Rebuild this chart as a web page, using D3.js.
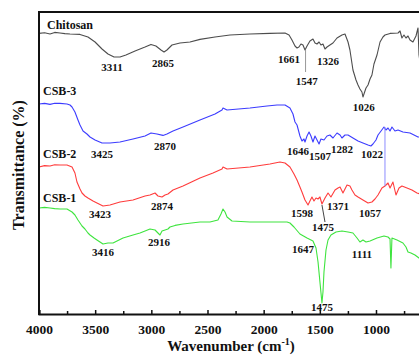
<!DOCTYPE html>
<html>
<head>
<meta charset="utf-8">
<script src="https://cdn.jsdelivr.net/npm/d3@7"></script>
<style>
  html, body { margin: 0; padding: 0; background: #fff; overflow: hidden; }
  svg { display: block; }
  text { font-family: "Liberation Serif", "Times New Roman", serif; font-weight: bold; fill: #111; }
</style>
</head>
<body>
<script>
// FTIR spectra: [wavenumber (cm-1), transmittance (offset, a.u.)]
const chitosan = [
  [4000,140.3],[3950,140.6],[3902,140],[3860,140.8],[3813,140.5],[3770,140.2],[3724,140],[3635,139.8],[3564,138.5],[3501,136],
  [3439,132.5],[3386,130],[3332,128.5],[3279,128.5],[3226,129.5],[3145,131.5],[3056,133.5],
  [3003,134.8],[2959,134],[2914,132],[2887,131],[2861,132],[2816,134.5],[2745,135.5],
  [2656,136],[2567,137.3],[2433,138.5],[2300,139.5],[2122,140],[1944,140.3],[1810,140.5],
  [1774,139.5],[1748,137],[1721,134],[1703,133],[1686,133.5],[1668,135],[1650,134.5],
  [1632,132],[1614,134],[1588,136.5],[1561,137.5],[1543,135.5],[1525,135],[1507,136],
  [1490,134.5],[1472,135],[1454,132.5],[1436,133.5],[1410,134.5],[1383,135.5],[1347,138],
  [1303,139.5],[1276,140],[1249,136],[1232,132],[1205,122],[1178,117],[1160,114.5],
  [1143,112.5],[1125,111],[1116,108.5],[1107,110],[1089,113],[1071,114.5],[1053,117.5],
  [1036,119.5],[1018,125],[991,129.5],[964,136],[938,138.5],[920,139.5],[875,140.3],
  [804,140.5],[786,141.5],[769,138],[751,139.5],[733,138],[715,139],[697,137],[671,136],
  [644,139],[626,143],[617,129.5],[608,126]
];

const csb3 = [
  [4000,105],[3950,105.3],[3902,104.8],[3860,105.4],[3813,105.3],[3751,105],[3724,104.5],[3706,103.5],[3680,101],
  [3653,97],[3635,94.5],[3608,91.5],[3573,90],[3546,88.5],[3501,87],[3439,85.5],[3368,85.5],
  [3279,86],[3163,87.5],[3056,89],[3003,90.5],[2950,90],[2896,89.3],[2861,90],[2807,91.5],
  [2718,93.5],[2567,97],[2433,100],[2371,102],[2362,103],[2326,102],[2122,103],[1970,104],
  [1881,104.5],[1810,104.5],[1766,103],[1739,100],[1721,96],[1703,94.5],[1677,89],[1659,86.5],
  [1641,87.5],[1632,86],[1614,89],[1596,91],[1579,89],[1561,86],[1543,89],[1525,87],
  [1507,85],[1490,87.5],[1463,87],[1436,89],[1410,89.5],[1383,88],[1347,90.5],[1320,89.5],
  [1303,88],[1276,89.5],[1249,89.5],[1205,88],[1160,86.5],[1116,85.5],[1071,84.5],
  [1045,84],[1027,85],[1000,87],[982,89.5],[955,91.5],[929,93.5],[911,92],[893,93],
  [875,91.5],[858,93.5],[831,91.5],[804,92],[760,91],[697,90.5],[626,88.5],[608,88.5]
];

const csb2 = [
  [4000,73.5],[3950,74.2],[3902,74],[3860,74.6],[3813,74.5],[3751,74.5],[3706,73.5],[3680,70.5],[3662,66],
  [3635,62.5],[3617,60.5],[3591,59],[3564,58],[3519,56.5],[3484,55.5],[3430,54],[3368,54.5],
  [3279,56],[3163,57],[3056,59],[3012,59.5],[2967,60.5],[2941,59],[2905,58.5],[2878,59.5],
  [2852,60],[2807,62],[2718,64],[2567,68],[2451,70.5],[2371,72.5],[2362,73.5],[2326,72.5],
  [2122,73.5],[1944,75],[1855,76],[1810,75.5],[1766,73.5],[1730,70],[1703,67],[1677,63.5],
  [1659,61],[1632,57],[1605,54.5],[1588,56.5],[1570,58.5],[1552,56.5],[1534,58],[1516,57.5],
  [1499,58.5],[1481,55],[1454,58],[1427,60.5],[1401,58.5],[1365,62],[1338,63],[1320,63.5],
  [1294,60.5],[1258,64.5],[1232,64],[1214,62],[1187,59.5],[1160,58.5],[1116,57],[1071,55.5],
  [1036,56],[1009,57.5],[982,59.5],[947,63],[920,64],[893,65.5],[875,63],[849,66],
  [822,59.5],[795,63],[769,64],[724,63],[680,62],[635,60.5],[608,60]
];

const csb1 = [
  [4000,53],[3950,53.3],[3902,53],[3860,52.7],[3813,52.5],[3751,52.5],[3706,51],[3680,49.5],[3653,47],[3617,44],
  [3591,42.5],[3564,40.5],[3546,39.5],[3510,38],[3484,37],[3430,35],[3386,35.5],[3341,35.5],
  [3252,38],[3163,39.5],[3101,40.5],[3056,41.5],[3012,42.5],[2967,42],[2941,40.5],[2923,39.5],
  [2905,41.5],[2878,42],[2852,42.5],[2834,43.5],[2789,44.3],[2718,45],[2567,46],[2478,46],
  [2407,47],[2380,50],[2362,52.5],[2344,51],[2326,48.5],[2282,46.5],[2122,46],[1944,46],
  [1792,46],[1766,45.5],[1730,43.5],[1677,40],[1614,38],[1561,36.5],[1534,33],[1516,26],
  [1499,16],[1481,5.5],[1472,11],[1463,21],[1445,32],[1427,37],[1401,39.5],[1356,41],
  [1303,41.5],[1249,41],[1205,40.5],[1169,38],[1143,36],[1116,37],[1089,36],[1053,36.5],
  [991,38],[929,39],[893,38.5],[875,37.5],[867,23],[858,38],[813,37],[760,35.5],[733,33.5],
  [715,31],[689,30.5],[653,29.5],[617,28],[608,27.5]
];

const seriesNames  = ["Chitosan", "CSB-3", "CSB-2", "CSB-1"];
const seriesData   = [chitosan, csb3, csb2, csb1];
const seriesColors = ["#4d4d4d", "#3c3cff", "#ff3c3c", "#3ee43e"];

// Name labels placed at the start of each trace [wavenumber, transmittance]
const nameAnchors = [[3929,142.5],[3964,109.5],[3964,78],[3964,56]];

// Peak annotations: text, wavenumber and transmittance where the label sits
const peakLabels = [
  ["3311",3350,121.5],["2865",2896,123.5],["1661",1774,125.5],["1547",1617,114.5],["1326",1427,124.5],["1026",1108,101.5],
  ["3425",3439,78],["2870",2878,82],["1646",1694,79.5],["1507",1499,77],["1282",1303,80.5],["1022",1036,78],
  ["3423",3457,48],["2874",2905,52],["1598",1659,48.5],["1475",1472,41.5],["1371",1338,52],["1057",1053,48.5],
  ["3416",3430,29],["2916",2932,34],["1647",1650,30.5],["1111",1125,28],["1475",1481,1.5]
];

// Leader lines: [wavenumber1, T1, wavenumber2, T2, colour]
const leaders = [
  [1627,132,1627,121,"#999"],
  [1481,54.5,1454,46,"#444"],
  [920,93.5,920,64,"#8c8cff"]
];

// tick values inside the visible part of the wavenumber range
const majorTicks = [4000,3500,3000,2500,2000,1500,1000];
const minorTicks = [3750,3250,2750,2250,1750,1250,750];

const W = 419, H = 355;
const svg = d3.select("body").append("svg").attr("width", W).attr("height", H);

const x = d3.scaleLinear().domain([4000, 400]).range([39, 39 + 3600 * 0.11233]);
const y = d3.scaleLinear().domain([0, 151]).range([314, 12]);

// spectra
const line = d3.line().x(d => x(d[0])).y(d => y(d[1]));
seriesData.forEach((s, i) => {
  svg.append("path").datum(s)
    .attr("d", line)
    .attr("fill", "none")
    .attr("stroke", seriesColors[i])
    .attr("stroke-width", 1.1)
    .attr("stroke-linejoin", "round");
});

// leader lines
svg.selectAll("line.leader").data(leaders).join("line")
  .attr("class", "leader")
  .attr("x1", d => x(d[0])).attr("y1", d => y(d[1]))
  .attr("x2", d => x(d[2])).attr("y2", d => y(d[3]))
  .attr("stroke", d => d[4]).attr("stroke-width", 1);

// frame: top line and axes
svg.append("line").attr("x1", x(4000)).attr("x2", x(400)).attr("y1", y(151)).attr("y2", y(151))
  .attr("stroke", "#111").attr("stroke-width", 2);
svg.append("line").attr("x1", x(4000)).attr("x2", x(4000)).attr("y1", y(151) - 1).attr("y2", y(0) + 1)
  .attr("stroke", "#111").attr("stroke-width", 2);

const xAxis = svg.append("g").attr("transform", `translate(0,${y(0)})`)
  .call(d3.axisBottom(x).tickValues(majorTicks).tickFormat(d3.format("d")).tickSize(-4).tickPadding(10));
xAxis.select(".domain").attr("stroke", "#111").attr("stroke-width", 2);
xAxis.selectAll(".tick line").attr("stroke", "#111").attr("stroke-width", 1.5);
xAxis.selectAll(".tick text").attr("font-size", 13.5).attr("font-family", null).attr("fill", "#111");

svg.append("g").attr("transform", `translate(0,${y(0)})`)
  .call(d3.axisBottom(x).tickValues(minorTicks).tickFormat("").tickSize(-3))
  .call(g => g.select(".domain").remove())
  .selectAll(".tick line").attr("stroke", "#111").attr("stroke-width", 1.5);

// axis titles
const xt = svg.append("text").attr("x", 231).attr("y", 351).attr("text-anchor", "middle").attr("font-size", 15);
xt.append("tspan").text("Wavenumber (cm");
xt.append("tspan").text("-1").attr("font-size", 10).attr("dy", -6);
xt.append("tspan").text(")").attr("dy", 6);

svg.append("text")
  .attr("transform", "translate(24,165) rotate(-90)")
  .attr("text-anchor", "middle").attr("font-size", 16)
  .text("Transmittance (%)");

// series names
svg.selectAll("text.name").data(seriesNames).join("text")
  .attr("class", "name")
  .attr("x", (d, i) => x(nameAnchors[i][0]))
  .attr("y", (d, i) => y(nameAnchors[i][1]))
  .attr("font-size", 12)
  .text(d => d);

// peak labels
svg.selectAll("text.peak").data(peakLabels).join("text")
  .attr("class", "peak")
  .attr("x", d => x(d[1])).attr("y", d => y(d[2]))
  .attr("text-anchor", "middle").attr("font-size", 11)
  .text(d => d[0]);
</script>
</body>
</html>
